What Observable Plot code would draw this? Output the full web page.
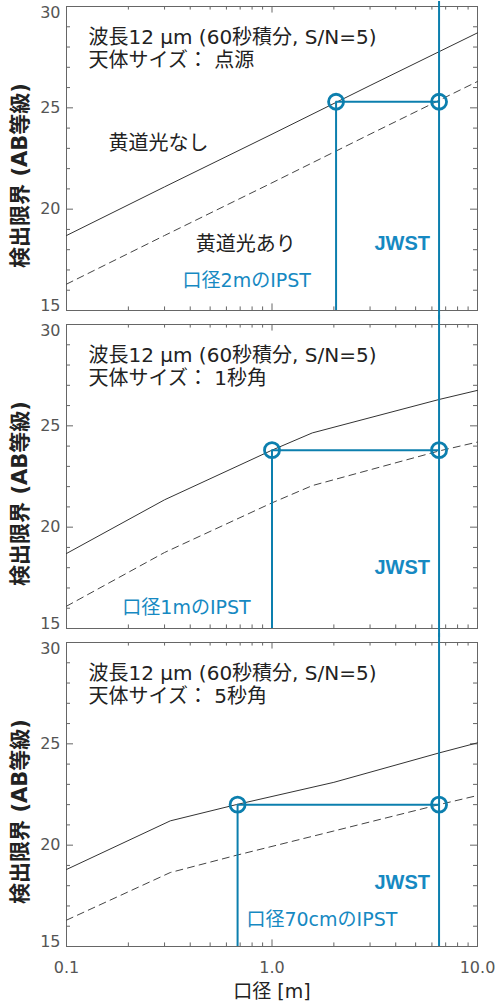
<!DOCTYPE html>
<html><head><meta charset="utf-8">
<script src="https://cdn.jsdelivr.net/npm/d3@7"></script>
<script src="https://cdn.jsdelivr.net/npm/@observablehq/plot@0.6"></script>
<style>
body{margin:0;background:#fff;}
#chart svg{display:block;}
</style>
</head><body><div id="chart"></div>
<script>
// ---------- data ----------
const panels = [1, 2, 3];
const titleLine1 = "波長12 µm (60秒積分, S/N=5)";
const sizeLabels = ["天体サイズ： 点源", "天体サイズ： 1秒角", "天体サイズ： 5秒角"];
const ipstLabels = ["口径2mのIPST", "口径1mのIPST", "口径70cmのIPST"];

// Panel 1 (point source)
const p1SolidX = [0.1, 0.3, 1, 3, 10];
const p1SolidY = [18.7, 21.1, 23.7, 26.1, 28.7];
const p1DashX  = [0.1, 0.3, 1, 3, 10];
const p1DashY  = [16.3, 18.7, 21.3, 23.7, 26.3];
// Panel 2 (1 arcsec)
const p2SolidX = [0.1, 0.3, 1, 1.57, 6.5, 10];
const p2SolidY = [18.7, 21.35, 23.8, 24.65, 26.3, 26.75];
const p2DashX  = [0.1, 0.3, 1, 1.57, 6.5, 10];
const p2DashY  = [16.1, 18.75, 21.2, 22.05, 23.76, 24.2];
// Panel 3 (5 arcsec)
const p3SolidX = [0.1, 0.32, 0.67, 2, 6.5, 10];
const p3SolidY = [18.8, 21.2, 22.0, 23.1, 24.55, 25.05];
const p3DashX  = [0.1, 0.32, 0.67, 2, 6.5, 10];
const p3DashY  = [16.3, 18.65, 19.5, 20.7, 22.0, 22.45];

// Telescope apertures and limits
const jwstX = 6.5;
const ipstX = [2.05, 1.0, 0.68];
const limitY = [25.3, 23.8, 22.0];
// JWST rule extent per panel (continues through the gaps)
const jwstY1 = [14.55, 14.55, 15];
const jwstY2 = [30.25, 30.45, 30.45];

// Annotation anchors (data coords)
const jwstLabelY = [18.3, 18.0, 18.15];
const ipstLabelX = [0.367, 0.187, 0.751];
const ipstLabelY = [16.47, 16.0, 16.33];
const noZodi = {panel: 1, x: 0.16, y: 23.24, text: "黄道光なし"};
const withZodi = {panel: 1, x: 0.425, y: 18.24, text: "黄道光あり"};

// Ticks
const midY = [20, 25];
const bottomY = [15];
const topY = [30];
const majorY = [15, 20, 25, 30];
const minorY = [16, 17, 18, 19, 21, 22, 23, 24, 26, 27, 28, 29];
const majorX = [0.1, 1, 10];
const minorX = [0.2, 0.3, 0.4, 0.5, 0.6, 0.7, 0.8, 0.9, 2, 3, 4, 5, 6, 7, 8, 9];

// ---------- build tables ----------
function rows(panel, xs, ys) { return xs.map((x, i) => ({panel, x, y: ys[i]})); }
const solid = [...rows(1, p1SolidX, p1SolidY), ...rows(2, p2SolidX, p2SolidY), ...rows(3, p3SolidX, p3SolidY)];
const dashed = [...rows(1, p1DashX, p1DashY), ...rows(2, p2DashX, p2DashY), ...rows(3, p3DashX, p3DashY)];
const tele = panels.map((p, i) => ({
  panel: p, ipst: ipstX[i], jwst: jwstX, lim: limitY[i],
  j1: jwstY1[i], j2: jwstY2[i], jy: jwstLabelY[i],
  lx: ipstLabelX[i], ly: ipstLabelY[i], label: ipstLabels[i], size: sizeLabels[i]
}));
const dots = tele.flatMap(d => [{panel: d.panel, x: d.ipst, y: d.lim}, {panel: d.panel, x: d.jwst, y: d.lim}]);

// ---------- layout ----------
const W = 496, H = 1005, MT = 5, MB = 58, ML = 66, MR = 19, PAD = 0.045;
const FW = W - ML - MR;                       // frame width
const step = (H - MT - MB) / (panels.length - PAD);
const BW = step * (1 - PAD);                  // facet height
const MAJ = 7, MIN = 4;

const BLUE = "#0c7fae";
const BLUE_TXT = "#1689c2";
const FONT = "'DejaVu Sans', 'Noto Sans CJK JP', sans-serif";
const TICKFONT = "'DejaVu Sans', sans-serif";
const INK = "#666";
const id = d => d;
const tk = {stroke: INK, strokeWidth: 1};
const lab = {stroke: "none", fill: "#555", fontSize: 16, fontFamily: TICKFONT, label: null, tickSize: 0};

const chart = Plot.plot({
  width: W,
  height: H,
  marginTop: MT,
  marginBottom: MB,
  marginLeft: ML,
  marginRight: MR,
  style: {fontFamily: FONT, background: "#fff"},
  x: {type: "log", domain: [0.1, 10]},
  y: {domain: [15, 30]},
  fy: {domain: panels, axis: null, paddingInner: PAD},
  marks: [
    Plot.frame({stroke: INK}),
    // inward ticks on all four sides of every panel
    Plot.tickY(majorY, {...tk, y: id, insetRight: FW - MAJ}),
    Plot.tickY(minorY, {...tk, y: id, insetRight: FW - MIN}),
    Plot.tickY(majorY, {...tk, y: id, insetLeft: FW - MAJ}),
    Plot.tickY(minorY, {...tk, y: id, insetLeft: FW - MIN}),
    Plot.tickX(majorX, {...tk, x: id, insetTop: BW - MAJ}),
    Plot.tickX(minorX, {...tk, x: id, insetTop: BW - MIN}),
    Plot.tickX(majorX, {...tk, x: id, insetBottom: BW - MAJ}),
    Plot.tickX(minorX, {...tk, x: id, insetBottom: BW - MIN}),
    // tick labels
    Plot.axisY({...lab, ticks: midY, anchor: "left", tickPadding: 6}),
    Plot.axisY({...lab, ticks: bottomY, anchor: "left", tickPadding: 6, dy: -5}),
    Plot.axisY({...lab, ticks: topY, anchor: "left", tickPadding: 6, dy: 6}),
    Plot.axisX({...lab, ticks: majorX, anchor: "bottom", tickPadding: 15, tickFormat: d3.format(".1f")}),
    // curves
    Plot.line(solid, {x: "x", y: "y", fy: "panel", z: "panel", stroke: "#333", strokeWidth: 1}),
    Plot.line(dashed, {x: "x", y: "y", fy: "panel", z: "panel", stroke: "#444", strokeWidth: 1, strokeDasharray: "7,5"}),
    // telescopes
    Plot.ruleX(tele, {x: "jwst", y1: "j1", y2: "j2", fy: "panel", stroke: BLUE, strokeWidth: 2}),
    Plot.ruleX(tele, {x: "ipst", y1: 15, y2: "lim", fy: "panel", stroke: BLUE, strokeWidth: 2}),
    Plot.ruleY(tele, {y: "lim", x1: "ipst", x2: "jwst", fy: "panel", stroke: BLUE, strokeWidth: 2}),
    Plot.dot(dots, {x: "x", y: "y", fy: "panel", r: 7.5, stroke: BLUE, strokeWidth: 2.8, fill: "none"}),
    // annotations
    Plot.text(tele, {fy: "panel", text: () => titleLine1, frameAnchor: "top-left", dx: 22, dy: 31,
      textAnchor: "start", lineAnchor: "middle", fontSize: 20, fill: "#222"}),
    Plot.text(tele, {fy: "panel", text: "size", frameAnchor: "top-left", dx: 22, dy: 54,
      textAnchor: "start", lineAnchor: "middle", fontSize: 20, fill: "#222"}),
    Plot.text([noZodi, withZodi], {fy: "panel", x: "x", y: "y", text: "text", textAnchor: "start",
      lineAnchor: "middle", fontSize: 20, fill: "#222"}),
    Plot.text(tele, {fy: "panel", x: "jwst", y: "jy", text: () => "JWST", dx: -9, textAnchor: "end",
      lineAnchor: "middle", fontSize: 20, fontWeight: "bold", fontFamily: "'Liberation Sans', sans-serif", fill: BLUE_TXT}),
    Plot.text(tele, {fy: "panel", x: "lx", y: "ly", text: "label", textAnchor: "start",
      lineAnchor: "middle", fontSize: 19, fill: BLUE_TXT}),
    // axis titles
    Plot.text(tele, {fy: "panel", text: () => "検出限界 (AB等級)", frameAnchor: "left", rotate: -90,
      textAnchor: "middle", lineAnchor: "middle", dx: -46, dy: 17, fontSize: 21, fontWeight: "bold", fill: "#222"}),
    Plot.text([3], {fy: id, text: () => "口径 [m]", frameAnchor: "bottom", dy: 45,
      textAnchor: "middle", lineAnchor: "middle", fontSize: 19, fill: "#222"})
  ]
});
document.getElementById("chart").append(chart);
</script>
</body></html>
